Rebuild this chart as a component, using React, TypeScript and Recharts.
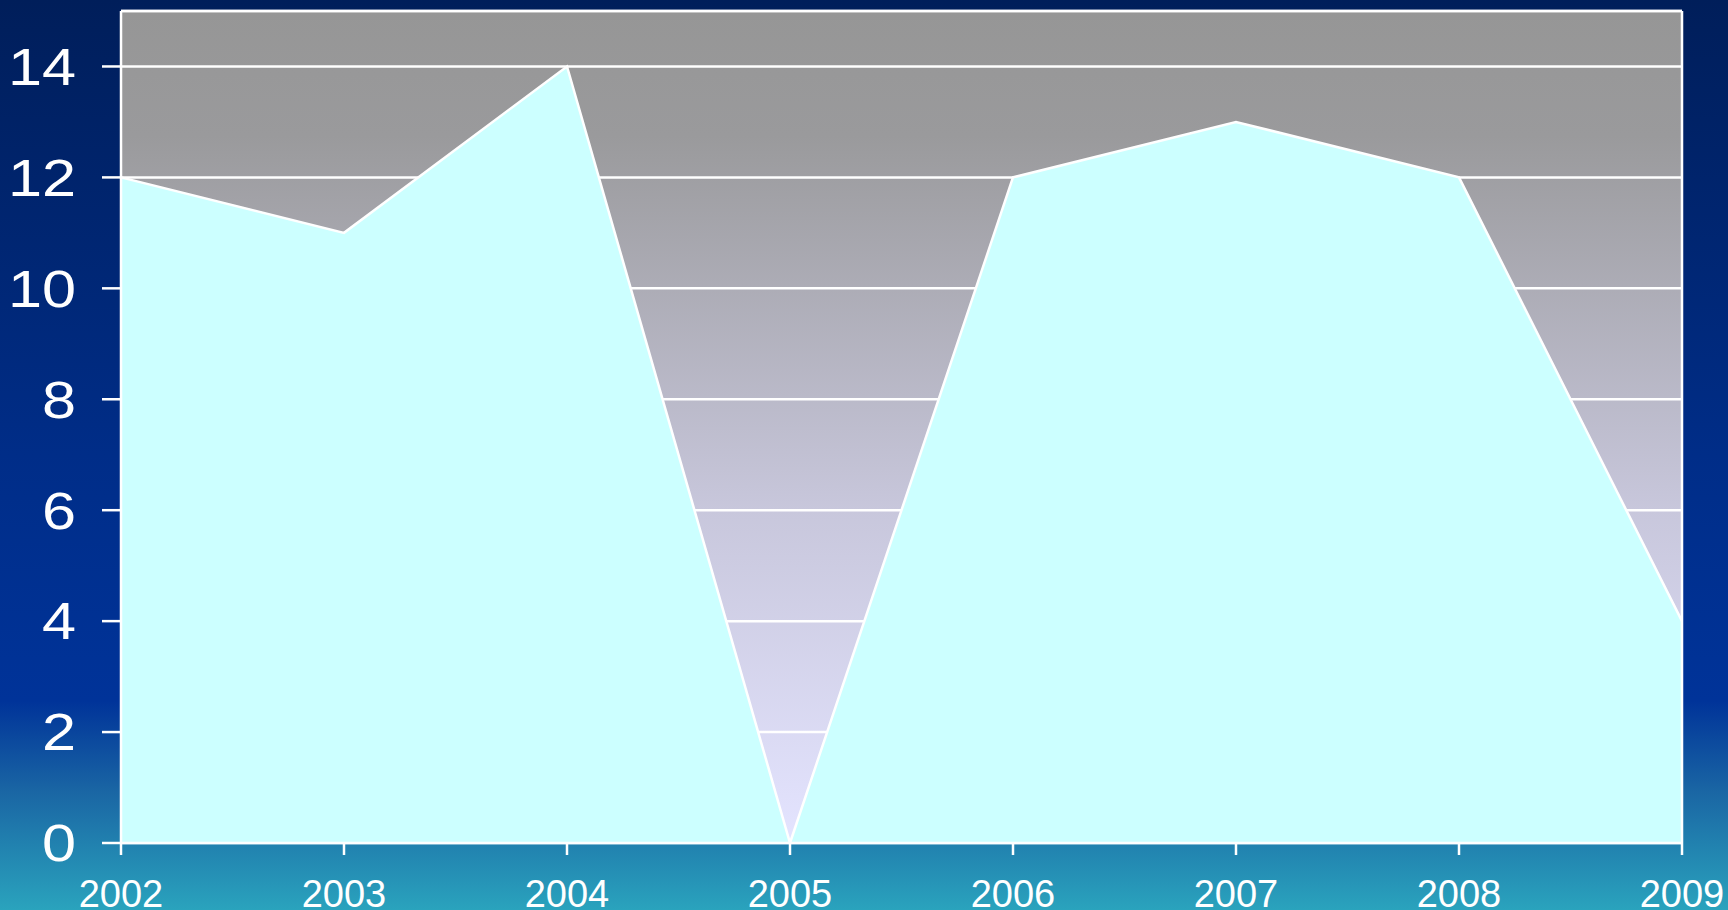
import React from 'react';
import {
  AreaChart,
  Area,
  XAxis,
  YAxis,
  CartesianGrid,
  ReferenceLine
} from 'recharts';

const years = ['2002', '2003', '2004', '2005', '2006', '2007', '2008', '2009'];
const counts = [12, 11, 14, 0, 12, 13, 12, 4];
const yTicks = [0, 2, 4, 6, 8, 10, 12, 14];

const data = years.map((year, i) => ({ year, value: counts[i] }));

const font = '"Liberation Sans", Arial, sans-serif';

// y labels in the source look a bit wider than normal Arial
function YTick(props: any) {
  const { x, y, payload } = props;
  return (
    <text
      x={0}
      y={0}
      transform={`translate(${x},${y}) scale(1.2,1)`}
      textAnchor="end"
      dy="0.36em"
      fill="#fff"
      fontSize={51}
      fontFamily={font}
    >
      {payload.value}
    </text>
  );
}

export default function App() {
  return (
    <div
      style={{
        position: 'absolute',
        top: 0,
        left: 0,
        width: 1728,
        height: 910,
        overflow: 'hidden',
        background:
          'linear-gradient(to bottom, #001e5a 0%, #002d88 50%, #003399 77%, #1a66a4 87%, #2aa3bd 100%)'
      }}
    >
      <AreaChart
        width={1728}
        height={910}
        data={data}
        margin={{ top: 11, right: 46, left: 0, bottom: 0 }}
      >
        <defs>
          <linearGradient id="plotBg" x1="0" y1="0" x2="0" y2="1">
            <stop offset="0%" stopColor="#969696" />
            <stop offset="15%" stopColor="#9a9a9c" />
            <stop offset="60%" stopColor="#c8c7dc" />
            <stop offset="100%" stopColor="#e4e4ff" />
          </linearGradient>
        </defs>
        <CartesianGrid
          vertical={false}
          stroke="#fff"
          strokeWidth={2.5}
          fill="url(#plotBg)"
          fillOpacity={1}
        />
        <XAxis
          dataKey="year"
          height={67}
          interval={0}
          tickSize={12}
          tickMargin={25}
          axisLine={{ stroke: '#fff', strokeWidth: 2.5 }}
          tickLine={{ stroke: '#fff', strokeWidth: 2.5 }}
          tick={{ fill: '#fff', fontSize: 38, fontFamily: font }}
        />
        <YAxis
          width={121}
          domain={[0, 15]}
          ticks={yTicks}
          interval={0}
          tickSize={19}
          tickMargin={26}
          axisLine={{ stroke: '#fff', strokeWidth: 2.5 }}
          tickLine={{ stroke: '#fff', strokeWidth: 2.5 }}
          tick={<YTick />}
        />
        <Area
          type="linear"
          dataKey="value"
          stroke="#fff"
          strokeWidth={2.5}
          fill="#ccffff"
          fillOpacity={1}
          isAnimationActive={false}
        />
        <ReferenceLine y={15} stroke="#fff" strokeWidth={2.5} />
        <ReferenceLine x="2009" stroke="#fff" strokeWidth={2.5} />
      </AreaChart>
    </div>
  );
}
